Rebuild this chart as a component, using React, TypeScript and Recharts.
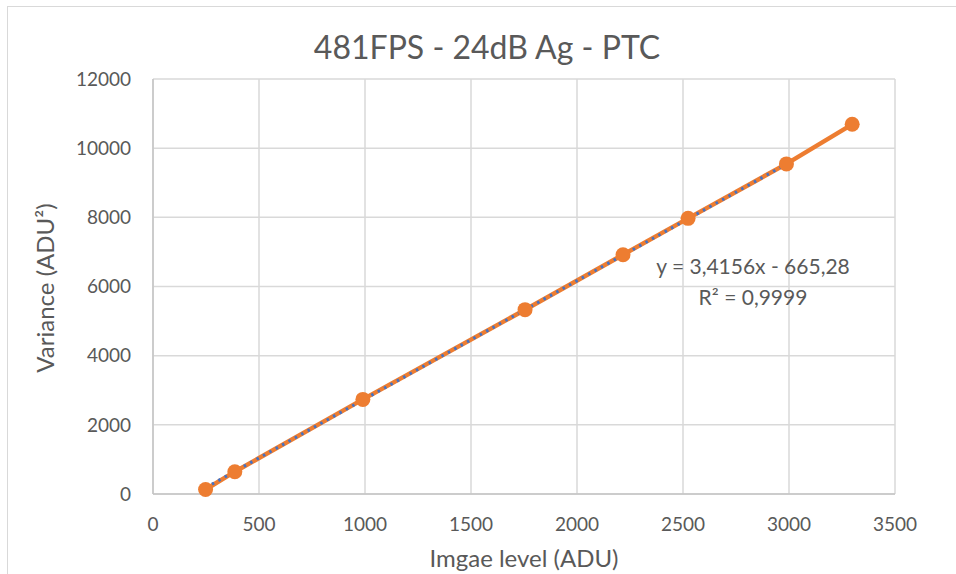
import React from 'react';
import { ComposedChart, Line, XAxis, YAxis, CartesianGrid } from 'recharts';

const imageLevel = [248, 386, 990, 1755, 2217, 2524, 2988, 3298];
const variance = [130, 645, 2735, 5330, 6920, 7970, 9545, 10690];

// Linear trendline as printed on the chart, fitted over the first seven points
const TREND_SLOPE = 3.4156;
const TREND_INTERCEPT = -665.28;
const trendRange = [248, 2988];

const xTicks = [0, 500, 1000, 1500, 2000, 2500, 3000, 3500];
const yTicks = [0, 2000, 4000, 6000, 8000, 10000, 12000];

const TITLE = '481FPS - 24dB Ag - PTC';
const X_TITLE = 'Imgae level (ADU)';
const Y_TITLE = 'Variance (ADU²)';
const EQUATION = 'y = 3,4156x - 665,28';
const R_SQUARED = 'R² = 0,9999';

const ORANGE = '#ED7D31';
const BLUE = '#4472C4';
const TEXT = '#595959';
const FONT = "Lato, 'Open Sans', sans-serif";

const ptcData = imageLevel.map((x, i) => ({ x, y: variance[i] }));
const trendData = trendRange.map(x => ({ x, y: TREND_SLOPE * x + TREND_INTERCEPT }));

const tickStyle = { fontSize: 19, fill: TEXT, fontFamily: FONT };

export default function App() {
  return (
    <div style={{ position: 'absolute', left: 0, top: 0, width: 956, height: 574, background: '#fff', overflow: 'hidden' }}>
      {/* chart frame */}
      <div style={{ position: 'absolute', left: 7, top: 6, width: 1000, height: 700, border: '1.5px solid #d9d9d9' }} />

      <div style={{ position: 'absolute', left: 0, top: 0 }}>
        <ComposedChart width={956} height={574} margin={{ top: 79, right: 61, bottom: 0, left: 0 }}>
          <CartesianGrid stroke="#d9d9d9" strokeWidth={1.5} />
          <XAxis
            type="number"
            dataKey="x"
            domain={[0, 3500]}
            ticks={xTicks}
            interval={0}
            tick={tickStyle}
            tickLine={false}
            tickSize={0}
            tickMargin={24}
            axisLine={{ stroke: '#c4c4c4', strokeWidth: 1.5 }}
            height={80}
          />
          <YAxis
            type="number"
            dataKey="y"
            domain={[0, 12000]}
            ticks={yTicks}
            interval={0}
            tick={tickStyle}
            tickLine={false}
            tickSize={0}
            tickMargin={22}
            axisLine={{ stroke: '#c4c4c4', strokeWidth: 1.5 }}
            width={153}
          />
          <Line
            data={ptcData}
            dataKey="y"
            stroke={ORANGE}
            strokeWidth={4.5}
            dot={{ r: 7.5, fill: ORANGE, stroke: ORANGE, strokeWidth: 0 }}
            activeDot={false}
            isAnimationActive={false}
          />
          <Line
            data={trendData}
            dataKey="y"
            stroke={BLUE}
            strokeWidth={3}
            strokeDasharray="2.5 4.8"
            dot={false}
            activeDot={false}
            isAnimationActive={false}
          />
        </ComposedChart>
      </div>

      {/* title */}
      <div style={{ position: 'absolute', left: 0, width: 974, top: 27, textAlign: 'center', fontFamily: FONT, fontSize: 32, color: TEXT, lineHeight: '40px' }}>
        {TITLE}
      </div>

      {/* axis titles */}
      <div style={{ position: 'absolute', left: 153, width: 742, top: 543, textAlign: 'center', fontFamily: FONT, fontSize: 24, color: TEXT, lineHeight: '30px' }}>
        {X_TITLE}
      </div>
      <div style={{ position: 'absolute', left: 45, top: 288, width: 0, height: 0 }}>
        <div style={{ position: 'absolute', left: -150, top: -15, width: 300, textAlign: 'center', transform: 'rotate(-90deg)', fontFamily: FONT, fontSize: 24, color: TEXT, lineHeight: '30px' }}>
          {Y_TITLE}
        </div>
      </div>

      {/* trendline label */}
      <div style={{ position: 'absolute', left: 633, width: 240, top: 250, textAlign: 'center', fontFamily: FONT, fontSize: 21, color: TEXT, lineHeight: '31px' }}>
        <div>{EQUATION}</div>
        <div>{R_SQUARED}</div>
      </div>
    </div>
  );
}
